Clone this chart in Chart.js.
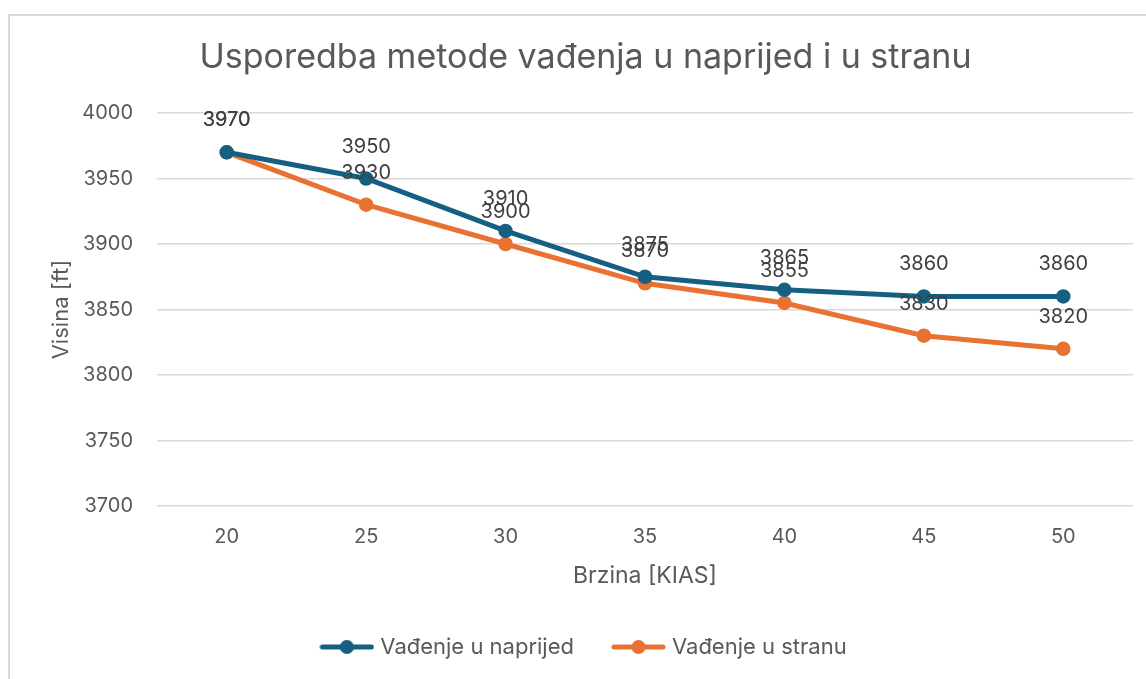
<!DOCTYPE html>
<html>
<head>
<meta charset="utf-8">
<script src="https://cdn.jsdelivr.net/npm/chart.js@4.4.1/dist/chart.umd.min.js"></script>
<style>
  html, body { margin: 0; padding: 0; background: #fff; overflow: hidden; width: 1146px; height: 679px; }
  #frame { position: absolute; left: 8px; top: 14px; border-left: 2px solid #d9d9d9; border-top: 2px solid #d9d9d9; }
  canvas { display: block; }
</style>
</head>
<body>
<div id="frame"><canvas id="chart" width="1169" height="700"></canvas></div>
<script>
// data
const speeds = ['20', '25', '30', '35', '40', '45', '50'];
const forwardAlt = [3970, 3950, 3910, 3875, 3865, 3860, 3860];
const sideAlt = [3970, 3930, 3900, 3870, 3855, 3830, 3820];
const yTicks = [3700, 3750, 3800, 3850, 3900, 3950, 4000];
const seriesNames = ['Vađenje u naprijed', 'Vađenje u stranu'];
const seriesColors = ['#156082', '#E97132'];

const FONT = 'Inter';
const GREY = '#595959';

// line + dot marker like the Excel legend
function legendMarker(color) {
  const c = document.createElement('canvas');
  c.width = 55; c.height = 16;
  const g = c.getContext('2d');
  g.strokeStyle = color;
  g.lineWidth = 5;
  g.lineCap = 'round';
  g.beginPath(); g.moveTo(3, 8); g.lineTo(52, 8); g.stroke();
  g.fillStyle = color;
  g.beginPath(); g.arc(27.5, 8, 7, 0, Math.PI * 2); g.fill();
  return c;
}

// value labels above each point
const valueLabels = {
  id: 'valueLabels',
  afterDatasetsDraw(chart) {
    const ctx = chart.ctx;
    ctx.save();
    ctx.font = '20px ' + FONT;
    ctx.fillStyle = '#404040';
    ctx.textAlign = 'center';
    ctx.textBaseline = 'middle';
    chart.data.datasets.forEach((ds, i) => {
      chart.getDatasetMeta(i).data.forEach((pt, j) => {
        ctx.fillText(String(ds.data[j]), pt.x, pt.y - 32);
      });
    });
    ctx.restore();
  }
};

function draw() {
  const ctx = document.getElementById('chart').getContext('2d');
  new Chart(ctx, {
    type: 'line',
    data: {
      labels: speeds,
      datasets: [forwardAlt, sideAlt].map((vals, i) => ({
        label: seriesNames[i],
        data: vals,
        borderColor: seriesColors[i],
        backgroundColor: seriesColors[i],
        borderWidth: 5,
        pointRadius: 6.5,
        pointBorderWidth: 1.5,
        pointBackgroundColor: seriesColors[i],
        pointBorderColor: seriesColors[i],
        tension: 0
      }))
    },
    options: {
      responsive: false,
      animation: false,
      // the chart frame runs past the right edge of the picture, so the canvas does too
      layout: { padding: { left: 10, right: 28, top: 0, bottom: 48 } },
      scales: {
        x: {
          offset: true,
          grid: { display: false, drawTicks: false },
          border: { display: false },
          ticks: { color: GREY, font: { family: FONT, size: 20 }, padding: 19 },
          title: { display: true, text: 'Brzina [KIAS]', color: GREY, font: { family: FONT, size: 23 }, padding: { top: 0, bottom: 4 } },
          afterFit(s) { s.height = 88; }
        },
        y: {
          min: yTicks[0],
          max: yTicks[yTicks.length - 1],
          afterBuildTicks(s) { s.ticks = yTicks.map(v => ({ value: v })); },
          grid: { color: '#d9d9d9', lineWidth: 1.5, drawTicks: false },
          border: { display: false },
          ticks: {
            color: GREY,
            font: { family: FONT, size: 20 },
            padding: 24,
            callback: v => String(v)
          },
          title: { display: true, text: 'Visina [ft]', color: GREY, font: { family: FONT, size: 22 }, padding: { top: 28, bottom: 0 } },
          afterFit(s) { s.width = 137; }
        },
        // empty right-hand spacer so the plot ends where the reference does
        spacer: {
          type: 'linear',
          position: 'right',
          grid: { display: false, drawTicks: false },
          border: { display: false },
          ticks: { display: false },
          afterFit(s) { s.width = 18; }
        }
      },
      plugins: {
        title: {
          display: true,
          text: 'Usporedba metode vađenja u naprijed i u stranu',
          color: GREY,
          font: { family: FONT, size: 34, weight: 'normal' },
          padding: { top: 21.6, bottom: 34.6 }
        },
        legend: {
          position: 'bottom',
          labels: {
            color: GREY,
            font: { family: FONT, size: 22 },
            usePointStyle: true,
            pointStyleWidth: 45,
            padding: 42,
            generateLabels(chart) {
              return Chart.defaults.plugins.legend.labels.generateLabels(chart).map((it, i) => {
                it.pointStyle = legendMarker(seriesColors[i]);
                return it;
              });
            }
          }
        },
        tooltip: { enabled: false }
      }
    },
    plugins: [valueLabels]
  });
}

if (document.fonts && document.fonts.load) {
  document.fonts.load('20px ' + FONT).then(draw, draw);
} else {
  draw();
}
</script>
</body>
</html>
